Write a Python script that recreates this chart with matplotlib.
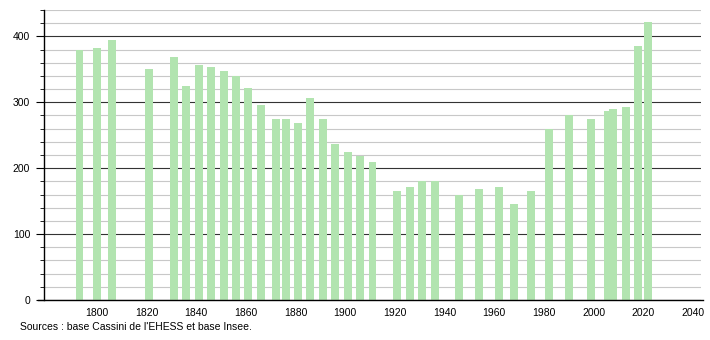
import matplotlib.pyplot as plt
from matplotlib.ticker import MultipleLocator

plt.rcParams['font.family'] = ['Liberation Sans', 'DejaVu Sans']

# census years and population
years = [1793, 1800, 1806, 1821, 1831, 1836, 1841, 1846, 1851, 1856,
         1861, 1866, 1872, 1876, 1881, 1886, 1891, 1896, 1901, 1906,
         1911, 1921, 1926, 1931, 1936, 1946, 1954, 1962, 1968, 1975,
         1982, 1990, 1999, 2006, 2008, 2013, 2018, 2022]
population = [380, 382, 394, 350, 368, 325, 356, 354, 348, 340,
              321, 296, 275, 275, 269, 307, 275, 237, 225, 218,
              209, 165, 172, 181, 181, 159, 169, 171, 146, 166,
              260, 281, 275, 287, 290, 293, 386, 422]
source = "Sources : base Cassini de l'EHESS et base Insee."

fig = plt.figure(figsize=(7.1, 3.4), dpi=100)
ax = fig.add_axes([0.062, 0.1176, 0.925, 0.853])

ax.bar(years, population, width=3.2, color='#b2e4b0', zorder=3)

ax.set_xlim(1778.7, 2043.2)
ax.set_ylim(0, 440)

ax.set_xticks(range(1800, 2041, 20))
ax.yaxis.set_major_locator(MultipleLocator(100))
ax.yaxis.set_minor_locator(MultipleLocator(20))

ax.grid(axis='y', which='minor', color='#c8c8c8', linewidth=0.8, zorder=1)
ax.grid(axis='y', which='major', color='#333333', linewidth=0.8, zorder=2)
ax.set_axisbelow(True)

for s in ['top', 'right', 'bottom']:
    ax.spines[s].set_visible(False)
ax.spines['left'].set_linewidth(1.0)
# baseline runs a little to the left of the y axis
ax.plot([-0.009, 1.003], [0, 0], transform=ax.transAxes, color='black',
        linewidth=1.0, clip_on=False, zorder=4)

ax.tick_params(axis='x', length=0, labelsize=7.5, pad=6)
ax.tick_params(axis='y', which='major', length=6, labelsize=7.5, pad=4)
ax.tick_params(axis='y', which='minor', length=3)

fig.text(20 / 710, 1 - 330 / 340, source, fontsize=7.5, ha='left', va='baseline')

fig.savefig('out.png', dpi=100)
